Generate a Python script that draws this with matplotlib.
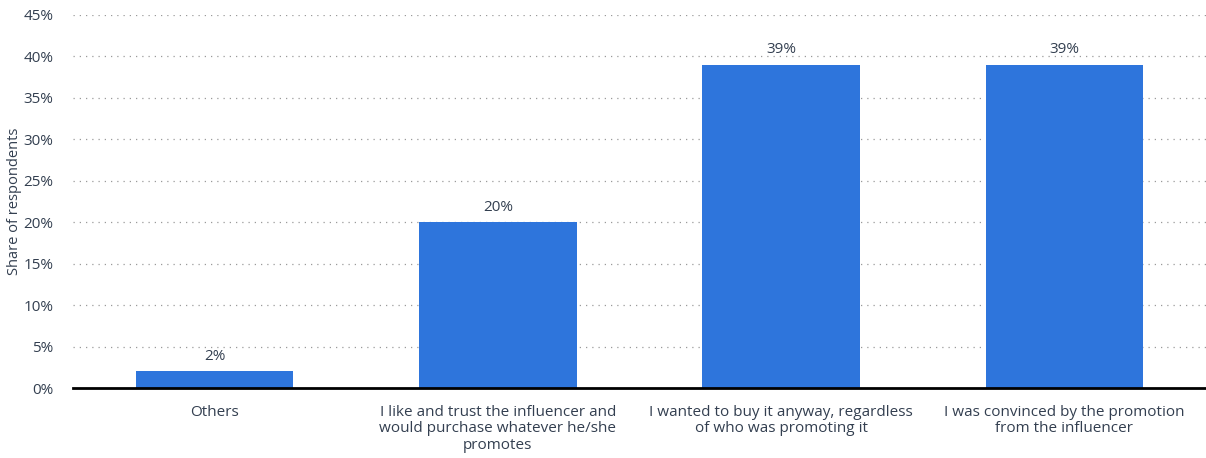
import numpy as np
import matplotlib
matplotlib.use("Agg")
import matplotlib.pyplot as plt

categories = [
    "Others",
    "I like and trust the influencer and\nwould purchase whatever he/she\npromotes",
    "I wanted to buy it anyway, regardless\nof who was promoting it",
    "I was convinced by the promotion\nfrom the influencer",
]
shares = [2, 20, 39, 39]
yticks = [0, 5, 10, 15, 20, 25, 30, 35, 40, 45]

BLUE = "#2e75dc"
TXT = "#333f50"
plt.rcParams["font.family"] = ["Open Sans", "DejaVu Sans"]

fig = plt.figure(figsize=(12.06, 4.58), dpi=100)
ax = fig.add_axes([73 / 1206, 1 - 388 / 458, 1 - 73 / 1206, (388 - 15) / 458])

x = np.arange(len(categories))
bars = ax.bar(x, shares, 0.556, color=BLUE, zorder=2)
for b, v in zip(bars, shares):
    ax.text(b.get_x() + b.get_width() / 2, v + 0.9, f"{v}%", ha="center", va="bottom",
            fontsize=11, color=TXT)

ax.set_xlim(-0.5, len(categories) - 0.5)
ax.set_ylim(0, 45)
ax.set_yticks(yticks)
ax.set_yticklabels([f"{t}%" for t in yticks], fontsize=11, color=TXT)
ax.set_xticks(x)
ax.set_xticklabels(categories, fontsize=11, color=TXT, linespacing=1.15)
ax.tick_params(axis="both", length=0)
ax.tick_params(axis="x", pad=12)
ax.tick_params(axis="y", pad=14)
ax.yaxis.grid(True, ls=(0, (1, 4)), color="#9a9a9a", lw=0.9, zorder=0)
ax.set_ylabel("Share of respondents", fontsize=10.5, color=TXT, labelpad=1)
for s in ["top", "right", "left"]:
    ax.spines[s].set_visible(False)
ax.spines["bottom"].set_color("black")
ax.spines["bottom"].set_linewidth(2)
ax.spines["bottom"].set_zorder(3)

fig.savefig("out.png", dpi=100)
